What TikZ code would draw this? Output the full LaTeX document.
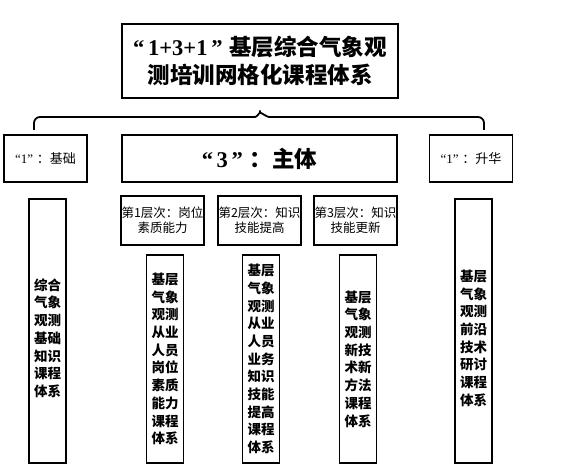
\documentclass[tikz,border=0pt]{standalone}
\usepackage{fontspec}
\setmainfont{Noto Sans CJK SC}
\newfontfamily\numfont{Liberation Serif}
\newcommand{\qnum}[1]{{\numfont\bfseries “\,#1\,”}\hspace{0.3em}}
\newcommand{\lowstart}{\rule{0pt}{26pt}}
\usetikzlibrary{positioning}
\tikzset{
  box/.style={rectangle, draw=black, line width=1.6pt, align=center, inner sep=0pt},
  titlebox/.style={box, minimum width=276pt, minimum height=74pt, font=\fontsize{22.5}{27.5}\selectfont\bfseries},
  mainbox/.style={box, minimum width=275pt, minimum height=47pt, font=\fontsize{22.5}{25}\selectfont\bfseries},
  sidebox/.style={box, minimum width=83pt, minimum height=47pt, font=\fontsize{13}{15}\selectfont},
  levelbox/.style={box, minimum width=83pt, minimum height=49pt, font=\fontsize{12.5}{15}\selectfont},
  colbox/.style={box, text width=28pt, minimum width=37pt, font=\fontsize{13.5}{17.7}\selectfont\bfseries},
  tallbox/.style={colbox, minimum height=264pt},
  shortbox/.style={colbox, minimum height=208pt},
  brace/.style={line width=1.8pt, rounded corners=6pt}
}
\begin{document}
\begin{tikzpicture}[x=1pt, y=-1pt]
\useasboundingbox (0,0) rectangle (586,468);
% top of the system
\node[titlebox] (title) at (260,61) {\qnum{1+3+1}基层综合气象观\\测培训网格化课程体系};
% three parts
\node[sidebox] (base) at (45.5,158.5) {{\numfont “1”}\hspace{0.3em}：基础};
\node[mainbox] (core) at (259.5,158.5) {\qnum{3}：主体};
\node[sidebox] (lift) at (471,158.5) {{\numfont “1”}\hspace{0.3em}：升华};
% levels of the core
\node[levelbox] (lvlA) at (162.5,220.5) {第1层次：岗位\\素质能力};
\node[levelbox] (lvlB) at (259.5,220.5) {第2层次：知识\\技能提高};
\node[levelbox] (lvlC) at (355.5,220.5) {第3层次：知识\\技能更新};
% course columns
\node[tallbox] (baseCourse) at (47.5,331) {\lowstart 综合\\气象\\观测\\基础\\知识\\课程\\体系};
\node[shortbox] (courseA) at (165,359) {基层\\气象\\观测\\从业\\人员\\岗位\\素质\\能力\\课程\\体系};
\node[shortbox] (courseB) at (261,359) {基层\\气象\\观测\\从业\\人员\\业务\\知识\\技能\\提高\\课程\\体系};
\node[shortbox] (courseC) at (358,359) {基层\\气象\\观测\\新技\\术新\\方法\\课程\\体系};
\node[tallbox] (liftCourse) at (473.5,331) {\lowstart 基层\\气象\\观测\\前沿\\技术\\研讨\\课程\\体系};
% brace under the title
\coordinate (braceL) at (34,130);
\coordinate (braceR) at (484,130);
\coordinate (tip) at ([yshift=-8pt]title.south);
\coordinate (tipL) at (249,117);
\coordinate (tipR) at (275,117);
\draw[brace] (braceL) |- (tipL) .. controls +(8,0) and +(0,5) .. (tip) .. controls +(0,5) and +(-8,0) .. (tipR) -| (braceR);
\end{tikzpicture}
\end{document}
